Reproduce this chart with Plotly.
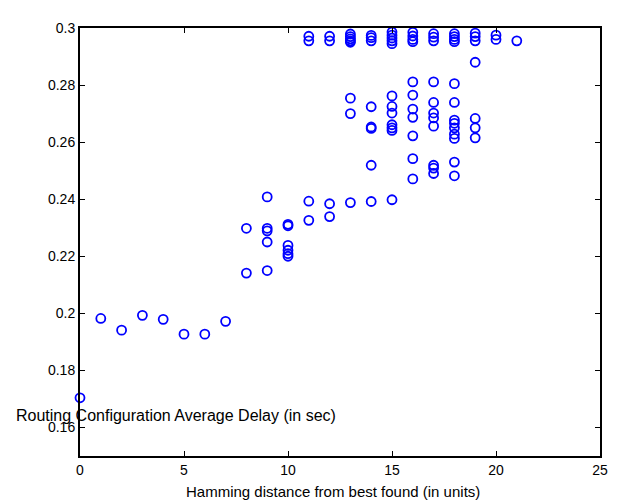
import plotly.graph_objects as go

# Hamming distance (x) and average delay (y) for each configuration
hamming = (
    [0, 1, 2, 3, 4, 5, 6, 7]
    + [8] * 2
    + [9] * 5
    + [10] * 6
    + [11] * 4
    + [12] * 4
    + [13] * 8
    + [14] * 8
    + [15] * 12
    + [16] * 11
    + [17] * 11
    + [18] * 13
    + [19] * 7
    + [20] * 2
    + [21] * 1
)
delay = [
    0.1704, 0.1982, 0.1941, 0.1993, 0.1979, 0.1927, 0.1927, 0.1972,
    0.2298, 0.2141,
    0.2408, 0.2298, 0.2289, 0.2250, 0.2150,
    0.2312, 0.2307, 0.2238, 0.2221, 0.2209, 0.2200,
    0.2393, 0.2326, 0.2971, 0.2955,
    0.2384, 0.2339, 0.2971, 0.2955,
    0.2388, 0.2754, 0.2700, 0.2979, 0.2970, 0.2962, 0.2955, 0.2950,
    0.2392, 0.2519, 0.2648, 0.2653, 0.2724, 0.2974, 0.2966, 0.2955,
    0.2398, 0.2641, 0.2650, 0.2661, 0.2702, 0.2725, 0.2762, 0.2986, 0.2975, 0.2965, 0.2955, 0.2945,
    0.2471, 0.2542, 0.2622, 0.2687, 0.2716, 0.2765, 0.2811, 0.2985, 0.2972, 0.2960, 0.2952,
    0.2490, 0.2509, 0.2519, 0.2656, 0.2685, 0.2702, 0.2739, 0.2811, 0.2980, 0.2968, 0.2955,
    0.2482, 0.2530, 0.2613, 0.2628, 0.2650, 0.2666, 0.2677, 0.2739, 0.2805, 0.2980, 0.2970, 0.2960, 0.2952,
    0.2615, 0.2650, 0.2683, 0.2880, 0.2982, 0.2970, 0.2955,
    0.2975, 0.2960,
    0.2955,
]

x_ticks = [0, 5, 10, 15, 20, 25]
y_ticks = [0.16, 0.18, 0.2, 0.22, 0.24, 0.26, 0.28, 0.3]
y_tick_text = ["0.16", "0.18", "0.2", "0.22", "0.24", "0.26", "0.28", "0.3"]

x_title = "Hamming distance from best found (in units)"
y_title = "Routing Configuration Average Delay (in sec)"

FONT = "Liberation Sans, Arial, sans-serif"

fig = go.Figure(
    go.Scatter(
        x=hamming,
        y=delay,
        mode="markers",
        marker=dict(symbol="circle-open", size=9, color="#0000FF",
                    line=dict(width=1.8, color="#0000FF")),
        cliponaxis=False,
        showlegend=False,
    )
)

axis_common = dict(
    showgrid=False,
    zeroline=False,
    showline=True,
    linecolor="black",
    linewidth=2,
    mirror="ticks",
    ticks="inside",
    ticklen=5,
    tickwidth=1,
    tickcolor="black",
    tickfont=dict(family=FONT, size=14, color="black"),
)

fig.update_xaxes(range=[0, 25], tickvals=x_ticks, **axis_common)
fig.update_yaxes(range=[0.15, 0.3], tickvals=y_ticks, ticktext=y_tick_text, **axis_common)

fig.add_annotation(
    text=x_title, xref="paper", yref="paper", x=0.486, y=-0.083,
    xanchor="center", yanchor="middle", showarrow=False,
    font=dict(family=FONT, size=15, color="black"),
)
fig.add_annotation(
    text=y_title, xref="paper", yref="paper", x=-0.126, y=0.094,
    xanchor="left", yanchor="middle", showarrow=False,
    font=dict(family=FONT, size=16, color="black"),
)

# the page body adds an 8px offset, so the figure is sized to fit the window
fig.update_layout(
    width=612,
    height=494,
    margin=dict(l=72, r=17, t=12, b=46),
    paper_bgcolor="white",
    plot_bgcolor="white",
    font=dict(family=FONT, size=14, color="black"),
)

fig.write_html("out.html")
